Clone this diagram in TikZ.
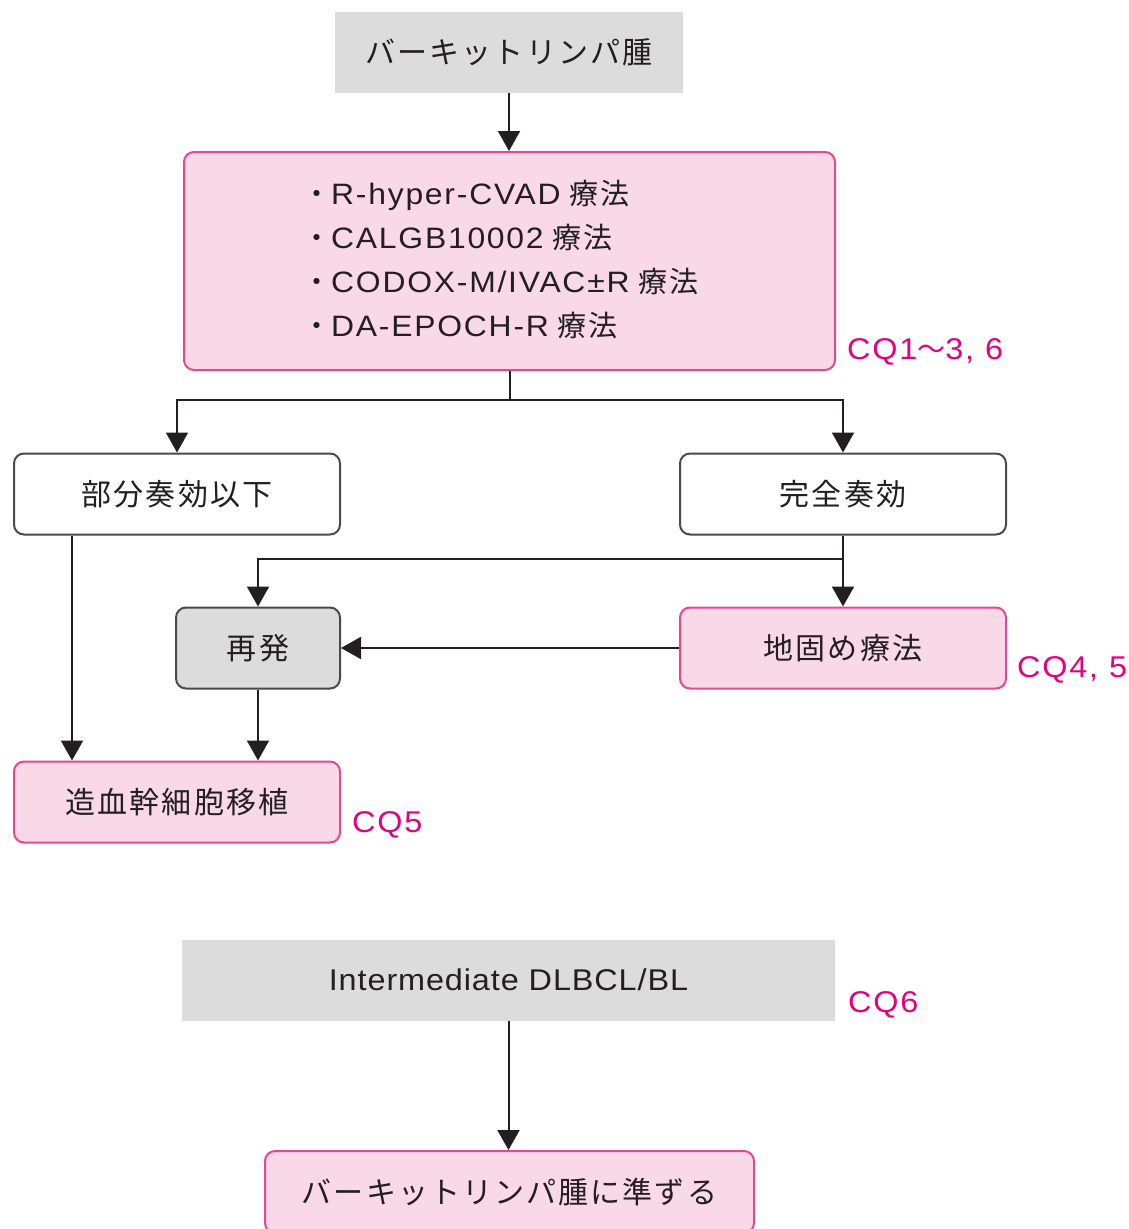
\documentclass[tikz,border=0pt]{standalone}
\usepackage{fontspec}
\setmainfont{Noto Sans CJK JP}[LetterSpace=7]
\newfontfamily\jpf{Noto Sans CJK JP}
\newfontfamily\lat{Liberation Sans}[FakeStretch=1.08, LetterSpace=6]
\newfontfamily\latI{Liberation Sans}[FakeStretch=1.08, LetterSpace=3]
\usetikzlibrary{arrows.meta}
\definecolor{pinkfill}{HTML}{F9D8E7}
\definecolor{pinkline}{HTML}{E8468E}
\definecolor{cqpink}{HTML}{E5007E}
\definecolor{grayfill}{HTML}{DCDCDC}
\definecolor{boxline}{HTML}{4A4A4A}
\definecolor{ink}{HTML}{231F20}
\newcommand{\jpL}{\fontsize{30}{36}\selectfont}
\newcommand{\jpS}{\fontsize{29}{44}\selectfont}
\newcommand{\latS}{\lat\fontsize{29.5}{44}\selectfont}
\newcommand{\latL}{\lat\fontsize{30}{36}\selectfont}
\newcommand{\latIL}{\latI\fontsize{30}{36}\selectfont}
\begin{document}
\begin{tikzpicture}[x=1pt,y=-1pt,
  base/.style={minimum height=81pt, inner sep=0pt, text=ink, anchor=center, font=\jpL},
  graybox/.style={base, fill=grayfill},
  pinkbox/.style={base, fill=pinkfill, draw=pinkline, line width=2pt, rounded corners=10pt},
  whitebox/.style={base, fill=white, draw=boxline, line width=2pt, rounded corners=10pt},
  relbox/.style={base, fill=grayfill, draw=boxline, line width=2pt, rounded corners=10pt},
  cq/.style={text=cqpink, anchor=west, inner sep=0pt, font=\latL},
  conn/.style={draw=ink, line width=2pt},
  arr/.style={conn, -{Triangle[width=22pt,length=20pt]}}]
\useasboundingbox (0,0) rectangle (1128,1229);
\clip (0,0) rectangle (1128,1229);

% nodes
\node[graybox, minimum width=348pt] (top) at (509,52.5) {バーキットリンパ腫};
\node[pinkbox, minimum width=651pt, minimum height=218pt] (main) at (509.5,261) {};
\node[anchor=west, align=left, text=ink, inner sep=0pt, font=\jpS] (list) at (302,260)
  {・{\latS R-hyper-CVAD} 療法\\
   ・{\latS CALGB10002} 療法\\
   ・{\latS CODOX-M/IVAC±R} 療法\\
   ・{\latS DA-EPOCH-R} 療法};
\node[cq] (cq1) at (847,352) {CQ1{\jpf\fontsize{28}{36}\selectfont 〜}3, 6};

\node[whitebox, minimum width=326pt] (pr) at (177,494) {部分奏効以下};
\node[whitebox, minimum width=326pt] (cr) at (843,494) {完全奏効};
\node[relbox, minimum width=164pt] (rel) at (258,648) {再発};
\node[pinkbox, minimum width=326pt] (cons) at (843,648) {地固め療法};
\node[cq] (cq45) at (1017,670) {CQ4, 5};
\node[pinkbox, minimum width=326pt] (sct) at (177,802) {造血幹細胞移植};
\node[cq] (cq5) at (352,825) {CQ5};

\node[graybox, minimum width=653pt, font=\latIL] (inter) at (508.5,980) {Intermediate DLBCL/BL};
\node[cq] (cq6) at (848,1005) {CQ6};
\node[pinkbox, minimum width=489pt, minimum height=82pt, anchor=north] (bl) at (509.5,1150) {バーキットリンパ腫に準ずる};

% connectors
\draw[arr] (top.south) -- (top.south |- main.north);
\draw[arr] (main.south) -- ++(0,29) -| (pr.north);
\draw[arr] (main.south) -- ++(0,29) -| (cr.north);
\draw[arr] (cr.south) -- (cons.north);
\path (cr.south) -- ++(0,23) coordinate (br);
\draw[arr] (br) -| (rel.north);
\draw[arr] (cons.west) -- (rel.east);
\draw[arr] ([xshift=-105pt]pr.south) -- ([xshift=-105pt]sct.north);
\draw[arr] (rel.south) -- (rel.south |- sct.north);
\draw[arr] (inter.south) -- (inter.south |- bl.north);
\end{tikzpicture}
\end{document}
